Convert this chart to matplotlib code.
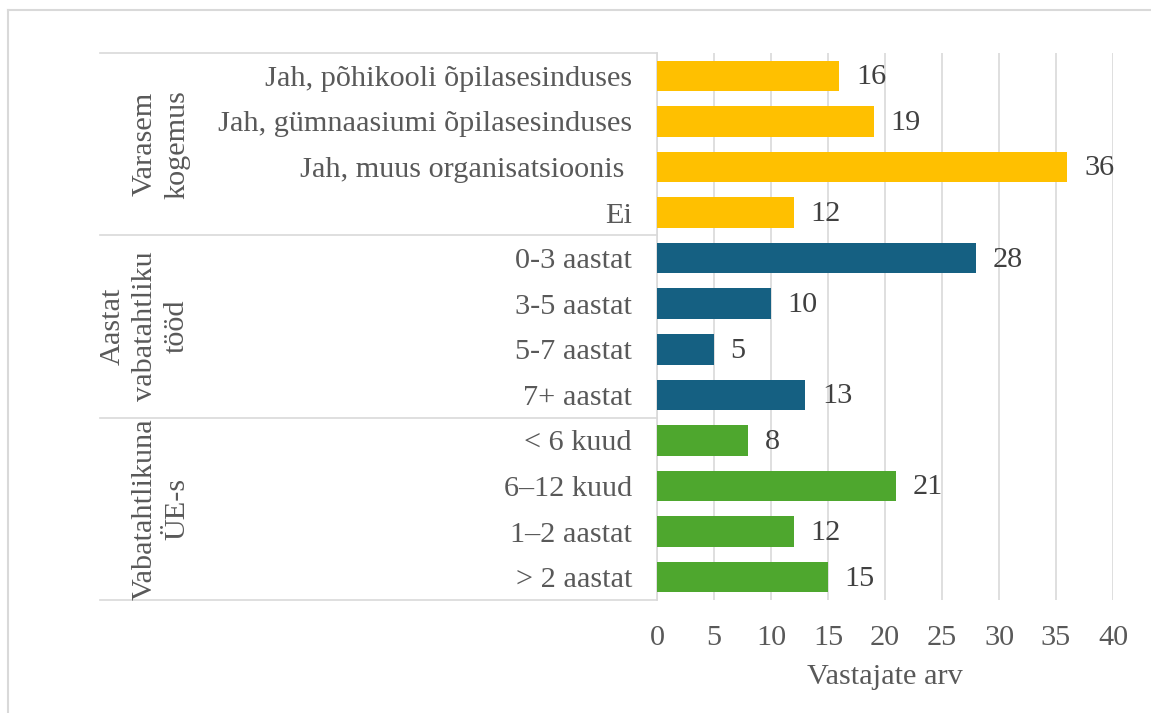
import matplotlib
matplotlib.use('Agg')
import matplotlib.pyplot as plt
from matplotlib.lines import Line2D
import matplotlib.transforms as mtrans

plt.rcParams['font.family'] = ['Liberation Serif', 'DejaVu Serif']

# andmed
kategooriad = ["Jah, põhikooli õpilasesinduses", "Jah, gümnaasiumi õpilasesinduses",
               "Jah, muus organisatsioonis ", "Ei",
               "0-3 aastat", "3-5 aastat", "5-7 aastat", "7+ aastat",
               "< 6 kuud", "6–12 kuud", "1–2 aastat", "> 2 aastat"]
vaartused = [16, 19, 36, 12, 28, 10, 5, 13, 8, 21, 12, 15]
grupid = ["Varasem\nkogemus", "Aastat\nvabatahtliku\ntööd", "Vabatahtlikuna\nÜE-s"]
grupi_suurus = [4, 4, 4]
grupi_varvid = ["#FFC000", "#156082", "#4EA72E"]
x_ticks = [0, 5, 10, 15, 20, 25, 30, 35, 40]

fs = 21.8
tekst = "#595959"
joon = "#D9D9D9"

fig = plt.figure(figsize=(11.51, 7.13), dpi=100)
ax = fig.add_axes([657/1151, 1-600/713, 456/1151, 547/713])

varvid = []
for v, n in zip(grupi_varvid, grupi_suurus):
    varvid += [v]*n

y = list(range(len(kategooriad)))
bars = ax.barh(y, vaartused, height=0.67, color=varvid, zorder=3)
for b, val in zip(bars, vaartused):
    ax.annotate(str(val), (b.get_width(), b.get_y()+b.get_height()/2),
                xytext=(12, -1), textcoords='offset points',
                va='center', ha='left', fontsize=fs, color="#404040")

ax.set_xlim(0, 40)
ax.set_ylim(len(kategooriad)-0.5, -0.5)
ax.set_xticks(x_ticks)
ax.set_yticks(y)
ax.set_yticklabels(kategooriad)
ax.tick_params(axis='both', length=0, labelsize=fs, labelcolor=tekst)
ax.tick_params(axis='y', pad=18)
ax.tick_params(axis='x', pad=18)
ax.xaxis.grid(True, color=joon, linewidth=1.2, zorder=0)
ax.set_xlabel("Vastajate arv", fontsize=fs, color=tekst, labelpad=9)
for s in ['top', 'right', 'bottom']:
    ax.spines[s].set_visible(False)
ax.spines['left'].set_color(joon)
ax.spines['left'].set_linewidth(1.2)

# grupi eraldusjooned ja nimed
tr = mtrans.blended_transform_factory(ax.transAxes, ax.transData)
xl = (100-657)/456
algus = -0.5
for g, n in zip(grupid, grupi_suurus):
    ax.plot([xl, 0], [algus, algus], color=joon, lw=1.2, transform=tr, clip_on=False)
    kesk = algus + n/2
    ax.text((190-657)/456, kesk, g, transform=tr, rotation=90, ha='right', va='center',
            multialignment='center', fontsize=fs, color=tekst, linespacing=1.3)
    algus += n
ax.plot([xl, 0], [algus, algus], color=joon, lw=1.2, transform=tr, clip_on=False)

# välimine raam
fig.add_artist(Line2D([8/1151, 8/1151], [0, 1-10/713], color=joon, lw=1.5))
fig.add_artist(Line2D([8/1151, 1], [1-10/713, 1-10/713], color=joon, lw=1.5))

fig.savefig("out.png", dpi=100)
